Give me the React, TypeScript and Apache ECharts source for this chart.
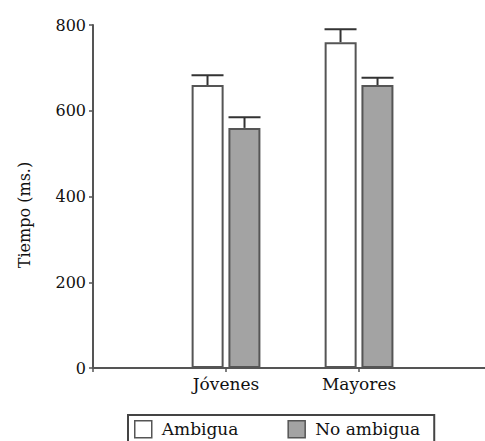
import React, { useEffect, useRef } from "react";
import * as echarts from "echarts";

const categories = ["", "Jóvenes", "Mayores"];
const seriesNames = ["Ambigua", "No ambigua"];
const ambigua = [660, 760];
const noAmbigua = [560, 660];
const ambiguaErr = [23, 30];
const noAmbiguaErr = [25, 17];
const yTicks = [0, 200, 400, 600, 800];
const yTitle = "Tiempo (ms.)";

const FONT = "DejaVu Serif";
const AXIS = "#555555";
const TEXT = "#111111";
const BAR_W = 32;
const OFFSET = 18.5;

const pairs = (vals: number[]) => vals.map((v, i) => [i + 1, v]);

function errorSeries(values: number[], errs: number[], offset: number) {
  const data = values.map((v, i) => [i + 1, v, v + errs[i]]);
  return {
    type: "custom",
    silent: true,
    z: 5,
    data,
    renderItem: (params: any, api: any) => {
      const i = api.value(0);
      const base = api.coord([i, api.value(1)]);
      const top = api.coord([i, api.value(2)]);
      const x = base[0] + offset;
      return {
        type: "group",
        children: [
          {
            type: "line",
            shape: { x1: x, y1: base[1], x2: x, y2: top[1] },
            style: { stroke: "#333", lineWidth: 2 },
          },
          {
            type: "line",
            shape: { x1: x - BAR_W / 2, y1: top[1], x2: x + BAR_W / 2, y2: top[1] },
            style: { stroke: "#333", lineWidth: 2 },
          },
        ],
      };
    },
  };
}

export default function App() {
  const ref = useRef<HTMLDivElement>(null);
  useEffect(() => {
    const chart = echarts.init(ref.current!, null, { renderer: "svg" });
    chart.setOption({
      animation: false,
      backgroundColor: "#ffffff",
      grid: { left: 93, right: 0, top: 25, bottom: 73, containLabel: false },
      graphic: [
        {
          type: "text",
          x: 24,
          y: 215,
          rotation: Math.PI / 2,
          style: {
            text: yTitle,
            fontFamily: FONT,
            fontSize: 16,
            fill: TEXT,
            align: "center",
            verticalAlign: "middle",
          },
        },
      ],
      legend: {
        left: 128,
        top: 415,
        orient: "horizontal",
        itemWidth: 17,
        itemHeight: 17,
        itemGap: 49,
        padding: [5, 14, 10, 6],
        borderColor: "#444",
        borderWidth: 2,
        borderRadius: 0,
        icon: "rect",
        textStyle: { fontFamily: FONT, fontSize: 17, color: TEXT, padding: [0, 0, 0, 5] },
        data: [
          { name: seriesNames[0], itemStyle: { color: "#ffffff", borderColor: AXIS, borderWidth: 1.5 } },
          { name: seriesNames[1], itemStyle: { color: "#a3a3a3", borderColor: AXIS, borderWidth: 1.5 } },
        ],
      },
      xAxis: {
        type: "value",
        min: 0,
        max: 2.947,
        interval: 1,
        axisLine: { show: true, lineStyle: { color: AXIS, width: 2 } },
        axisTick: { show: true, length: 4, lineStyle: { color: AXIS, width: 1.5 } },
        axisLabel: {
          fontFamily: FONT,
          fontSize: 17,
          color: TEXT,
          margin: 7,
          showMaxLabel: false,
          formatter: (v: number) => categories[Math.round(v)] ?? "",
        },
        splitLine: { show: false },
      },
      yAxis: {
        type: "value",
        min: yTicks[0],
        max: yTicks[yTicks.length - 1],
        interval: 200,
        axisLine: { show: true, lineStyle: { color: AXIS, width: 2 } },
        axisTick: { show: true, length: 4, lineStyle: { color: AXIS, width: 1.5 } },
        axisLabel: { fontFamily: FONT, fontSize: 16, color: TEXT, margin: 7 },
        splitLine: { show: false },
      },
      series: [
        {
          name: seriesNames[0],
          type: "bar",
          data: pairs(ambigua),
          barWidth: BAR_W,
          barGap: "15%",
          itemStyle: { color: "#ffffff", borderColor: AXIS, borderWidth: 2 },
        },
        {
          name: seriesNames[1],
          type: "bar",
          data: pairs(noAmbigua),
          barWidth: BAR_W,
          barGap: "15%",
          itemStyle: { color: "#a3a3a3", borderColor: AXIS, borderWidth: 2 },
        },
        errorSeries(ambigua, ambiguaErr, -OFFSET),
        errorSeries(noAmbigua, noAmbiguaErr, OFFSET),
      ],
    });
    return () => chart.dispose();
  }, []);
  return (
    <div
      ref={ref}
      style={{ position: "fixed", left: 0, top: 0, width: 485, height: 441 }}
    />
  );
}
